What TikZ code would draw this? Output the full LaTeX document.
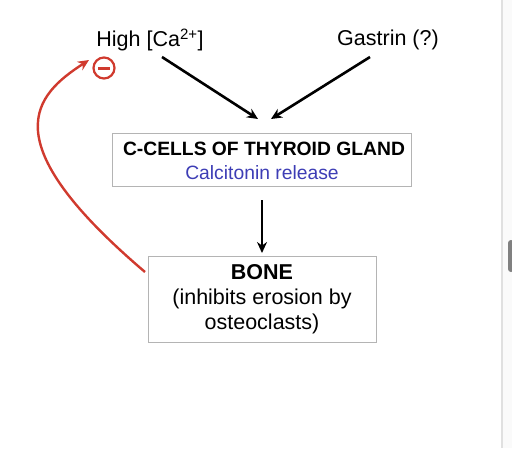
\documentclass[tikz,border=0pt]{standalone}
\usepackage{fontspec}
\setmainfont{Liberation Sans}
\usetikzlibrary{positioning,arrows.meta}
\definecolor{inhibred}{HTML}{D03A2E}
\definecolor{calblue}{HTML}{3D3DB5}
\definecolor{boxgrey}{HTML}{B4B4B4}
\begin{document}
\begin{tikzpicture}[x=1pt,y=-1pt,>={Stealth[length=11pt,width=10pt]},
  top node/.style={font=\fontsize{21.5}{25}\selectfont},
  organ node/.style={draw=boxgrey,line width=0.8pt,align=center,inner sep=0pt}]
  \useasboundingbox (0,0) rectangle (512,448);
  % scrollbar strip on the right
  \fill[black!2] (503,0) rectangle (512,448);
  \draw[black!12,line width=1.5pt] (502,0) -- (502,448);
  \fill[black!50,rounded corners=3pt] (508,240) rectangle (514,272);

  \node[top node] (ca) at (150,40) {High [Ca\textsuperscript{\fontsize{15}{15}\selectfont 2+}]};
  \node[top node] (gas) at (388,40) {Gastrin (?)};
  \node[circle,draw=inhibred,line width=2.2pt,minimum size=21pt,inner sep=0pt] (minus) at (104,68) {};
  \draw[inhibred,line width=3pt] ([xshift=-6pt]minus.center) -- ([xshift=6pt]minus.center);

  \node[organ node,minimum width=299pt,minimum height=53pt] (ccells) at (261.5,159.5) {};
  \node[font=\bfseries\fontsize{19.3}{22}\selectfont] (cctitle) at (264,149) {C-CELLS OF THYROID GLAND};
  \node[font=\fontsize{19.3}{22}\selectfont,text=calblue] (release) at (262,173) {Calcitonin release};

  \node[organ node,minimum width=228pt,minimum height=86pt,font=\fontsize{21.5}{25}\selectfont] (bone) at (262,299)
    {\textbf{BONE}\\(inhibits erosion by\\osteoclasts)};

  \coordinate (meet1) at (258,119);
  \coordinate (meet2) at (271,119);
  \coordinate (down1) at (262,200);
  \coordinate (down2) at (262,253);
  \path[->,line width=2.6pt]
    (162,57) edge (meet1)
    (370,57) edge (meet2)
    (down1) edge (down2);

  \coordinate (loopstart) at (145,272);
  \coordinate (loopend) at (89,60);
  \draw[->,inhibred,line width=2.4pt] (loopstart) .. controls (-10,140) and (35,95) .. (loopend);
\end{tikzpicture}
\end{document}
